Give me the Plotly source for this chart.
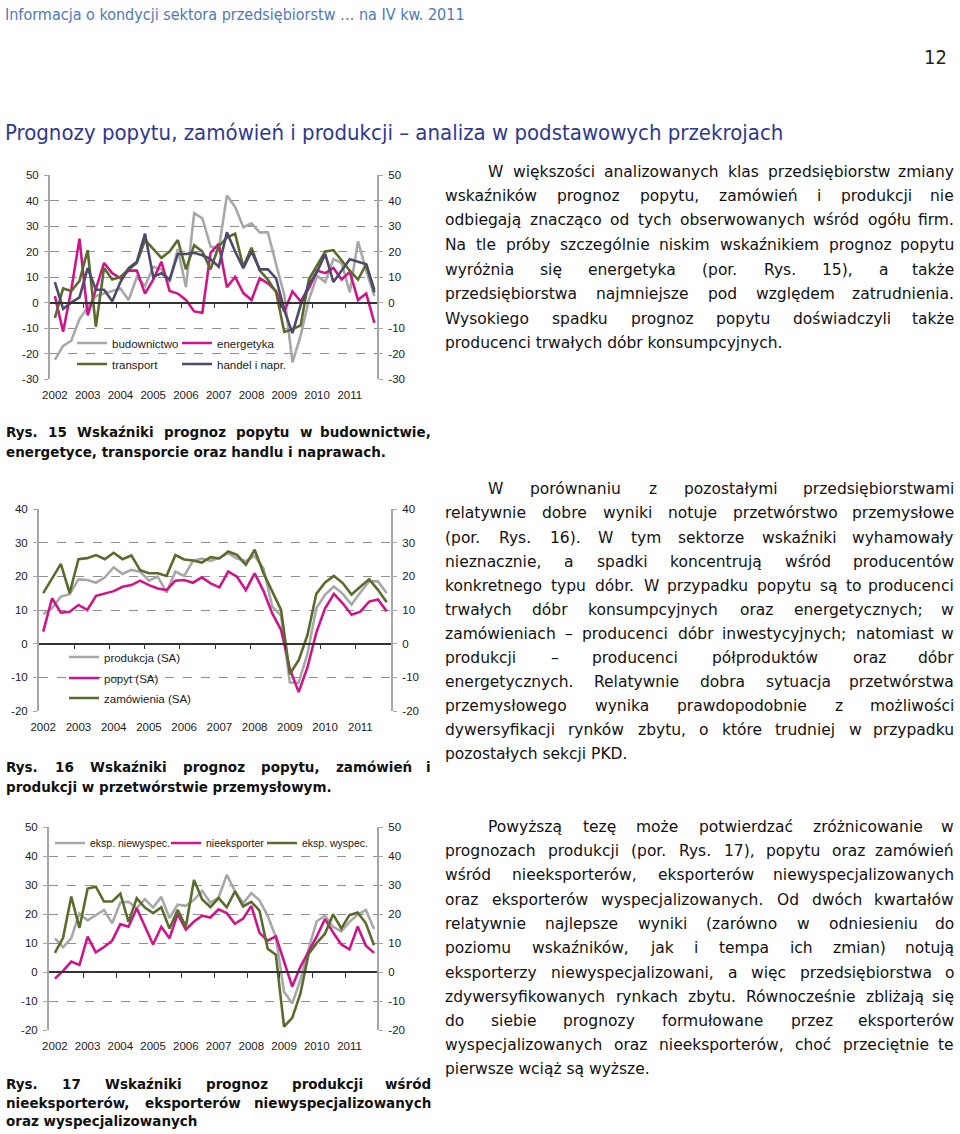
import plotly.graph_objects as go

W, H = 960, 1134

# ---------------- data ----------------
years = list(range(2002, 2012))
year_labels = [str(y) for y in years]
quarter_index = [1, 2, 3, 4]
periods = [y + (q - 1) / 4 for y in years for q in quarter_index]

# Rys. 15
budownictwo = [-22.5, -17, -15, -6.5, -2, 2.5, 3.5, 4.5, 5.5, 1, 10, 6.5, 14, 13, 8, 21, 6, 35, 33, 22,
               21, 42, 37.5, 29.5, 31, 27.5, 27.5, 15, 3, -23.5, -13, 1, 10.5, 8, 17, 15.5, 4, 24, 12.5, 2.5]
energetyka = [2.5, -11.5, 5, 25, -5, 5, 15.5, 11.5, 9.5, 12.5, 12.5, 3.5, 9, 16, 4.5, 3.5, 1, -3.5, -4, 19.5,
              23, 6, 10, 3.7, 1, 9.5, 7.5, 4.5, -3.5, 4.3, 0.5, 5.5, 12.5, 11.5, 13.5, 9, 12, 1, 3.5, -8]
transport = [-6, 5.5, 4.5, 8.5, 20.5, -9.5, 13.5, 9, 10, 13, 15.5, 24.5, 21, 17.5, 20, 24.5, 13, 22.5, 20, 13,
             22, 25.5, 27, 14, 21.5, 12.5, 9, 4, -11.5, -10.5, -9, 9, 14.5, 20, 20.5, 16.5, 12.5, 9, 15, 5]
handel = [8, -2.5, 0, 2, 13.5, 5, 5, 0.5, 8, 13.5, 16, 27, 10, 11.5, 9, 19, 19, 19.5, 18.5, 17,
          14, 27.5, 20, 13.5, 20, 13, 13, 9.5, -3, -12, -1, 7, 12, 19, 8, 12.5, 17, 16, 15, 4]
yticks15 = [-30, -20, -10, 0, 10, 20, 30, 40, 50]

# Rys. 16
produkcja = [8.8, 10.5, 14, 14.7, 19.1, 18.9, 18.1, 19.7, 22.7, 20.7, 21.9, 21.4, 18.7, 19.9, 15.2, 21.4, 20.1, 24.6, 25.3, 24.6,
             25.5, 26.8, 25.3, 24.5, 26.1, 22.4, 11, 8.3, -11.5, -11.6, -3, 10.5, 14.6, 17, 14.8, 11.6, 15.2, 18.5, 18.5, 15]
popyt = [3.6, 13.5, 9.2, 9.5, 11.5, 10, 14.2, 15, 15.6, 16.9, 17.4, 18.7, 17.4, 16.4, 15.9, 18.7, 18.9, 18.1, 19.7, 17.9,
         16.7, 21.4, 19.9, 15.9, 20.9, 15.7, 9, 4.1, -7.5, -14.4, -7, 3.3, 10.5, 14.8, 12, 8.6, 9.5, 12.5, 13.1, 9.6]
zamowienia = [15, 19.4, 23.7, 15, 25.1, 25.4, 26.3, 25.1, 27, 25.1, 26.2, 21.8, 20.9, 20.9, 20.1, 26.3, 25, 24.7, 24.1, 25.7,
              25.3, 27.4, 26.4, 23.4, 27.9, 21, 15.3, 10, -9, -4.9, 2.6, 14.8, 18.2, 20.1, 18, 14.6, 16.9, 19.1, 16, 12.3]
yticks16 = [-20, -10, 0, 10, 20, 30, 40]

# Rys. 17
eksp_niewyspec = [11.6, 8.5, 11.7, 20.2, 17.8, 19.7, 21.4, 16.8, 24, 24.2, 22, 25.1, 22.2, 25.9, 18.6, 23.2, 22.8, 24.9, 28, 23.9,
                  25.6, 33.5, 27.9, 23.7, 27.2, 24.7, 19.4, 12, -6.8, -10.9, -2.7, 7.9, 17.5, 19.4, 15.6, 14, 17.3, 19.7, 21.4, 14.8]
nieeksporter = [-2.3, 0.4, 3.6, 2.4, 12.2, 6.8, 8.6, 10.8, 16.5, 15.6, 22, 15.8, 9.5, 15.6, 11.6, 20, 14.6, 17.4, 19.4, 18.8,
                21.6, 20.3, 16.6, 18.4, 22.8, 13.5, 10.8, 12.3, 3.5, -5, 1.8, 7.1, 12.3, 18.3, 13.6, 9.5, 7.8, 15.7, 9.1, 6.6]
eksp_wyspec = [6.6, 11.8, 26, 15.2, 28.8, 29.4, 24.3, 24.3, 27, 17.3, 25.4, 22.2, 20.3, 22.3, 15, 21.4, 15.7, 31.7, 25, 22.4,
               25.5, 22.3, 27.8, 22.6, 24.2, 21.2, 8, 6, -18.8, -15.8, -7.5, 6.2, 10, 13.2, 19.9, 15, 19.6, 20.5, 16.8, 9.2]
yticks17 = [-20, -10, 0, 10, 20, 30, 40, 50]

# ---------------- styles ----------------
GRAY = "#a8a8a8"
MAGENTA = "#cc168a"
GREEN = "#5a6c2b"
PURPLE = "#4d4a6c"
AXIS_GRAY = "#a6a6a6"
AX_FAMILY = "Liberation Sans, Arial, sans-serif"
FONT_AX = dict(family=AX_FAMILY, size=11.5, color="#1a1a1a")
BODY_FONT = "DejaVu Sans, Verdana, sans-serif"
COND_FONT = "DejaVu Sans Condensed, Liberation Sans Narrow, DejaVu Sans, sans-serif"


def fx(px):
    return px / W


def fy(py):
    return 1 - py / H


charts = [
    dict(xdom=(50, 377), ydom=(175, 379), yr=(-30, 50), xr=(2001.85, 2011.83), yticks=yticks15, lsize=11.5,
         series=[("budownictwo", budownictwo, GRAY, (112, 343)),
                 ("energetyka", energetyka, MAGENTA, (217, 343)),
                 ("transport", transport, GREEN, (112, 364)),
                 ("handel i napr.", handel, PURPLE, (217, 364))]),
    dict(xdom=(39, 391), ydom=(509, 711), yr=(-20, 40), xr=(2001.88, 2011.87), yticks=yticks16, lsize=11.5,
         series=[("produkcja (SA)", produkcja, GRAY, (104, 657)),
                 ("popyt (SA)", popyt, MAGENTA, (104, 678)),
                 ("zamówienia (SA)", zamowienia, GREEN, (104, 698))]),
    dict(xdom=(49, 377), ydom=(827, 1030), yr=(-20, 50), xr=(2001.82, 2011.84), yticks=yticks17, lsize=10.5,
         series=[("eksp. niewyspec.", eksp_niewyspec, GRAY, (90, 843)),
                 ("nieeksporter", nieeksporter, MAGENTA, (206, 843)),
                 ("eksp. wyspec.", eksp_wyspec, GREEN, (302, 843))]),
]

fig = go.Figure()
layout = {}
legend_count = 0

for c, ch in enumerate(charts, start=1):
    xn = "x" if c == 1 else f"x{c}"
    yn = "y" if c == 1 else f"y{c}"
    xk = "xaxis" if c == 1 else f"xaxis{c}"
    yk = "yaxis" if c == 1 else f"yaxis{c}"
    xdom = [fx(ch["xdom"][0]), fx(ch["xdom"][1])]
    ydom = [fy(ch["ydom"][1]), fy(ch["ydom"][0])]
    yr = ch["yr"]
    ytext = [str(v) for v in ch["yticks"]]
    layout[xk] = dict(domain=xdom, range=list(ch["xr"]), anchor=yn, tickmode="array",
                      tickvals=years, ticktext=year_labels, ticks="", showline=False,
                      showgrid=False, zeroline=False, tickfont=FONT_AX, ticklabelstandoff=7)
    layout[yk] = dict(domain=ydom, range=list(yr), anchor=xn, tickmode="array",
                      tickvals=ch["yticks"], ticktext=ytext,
                      showgrid=True, gridcolor="#8f8f8f", griddash="dash", gridwidth=1,
                      zeroline=False, showline=True, linecolor=AXIS_GRAY, linewidth=2,
                      ticks="outside", ticklen=4, tickcolor=AXIS_GRAY, tickfont=FONT_AX,
                      ticklabelstandoff=3)
    # right-hand duplicate axis
    yr_name = f"y{c + 3}"
    layout[f"yaxis{c + 3}"] = dict(overlaying=yn, side="right", anchor=xn, range=list(yr),
                                   tickmode="array", tickvals=ch["yticks"], ticktext=ytext,
                                   showgrid=False, zeroline=False,
                                   showline=True, linecolor=AXIS_GRAY, linewidth=2,
                                   ticks="outside", ticklen=4, tickcolor=AXIS_GRAY,
                                   tickfont=FONT_AX, ticklabelstandoff=3)
    # horizontal axis crossing at zero with tick marks between years
    xz_name = f"x{c + 3}"
    zero_pos = ydom[0] + (0 - yr[0]) / (yr[1] - yr[0]) * (ydom[1] - ydom[0])
    layout[f"xaxis{c + 3}"] = dict(overlaying=xn, anchor="free", position=zero_pos,
                                   range=list(ch["xr"]), tickmode="array",
                                   tickvals=[y + 0.875 for y in years[:-1]],
                                   ticks="outside", ticklen=5, tickcolor="#333333",
                                   showticklabels=False, showline=True, linecolor="#333333",
                                   linewidth=1.5, showgrid=False, zeroline=False, side="bottom")
    first_vals = ch["series"][0][1]
    # invisible helper traces so the secondary axes are drawn
    fig.add_trace(go.Scatter(x=periods, y=first_vals, mode="lines", line=dict(width=0),
                             opacity=0, showlegend=False, hoverinfo="skip",
                             xaxis=xn, yaxis=yr_name))
    fig.add_trace(go.Scatter(x=periods, y=first_vals, mode="lines", line=dict(width=0),
                             opacity=0, showlegend=False, hoverinfo="skip",
                             xaxis=xz_name, yaxis=yn))
    for name, vals, color, (lx, ly) in ch["series"]:
        legend_count += 1
        lid = "legend" if legend_count == 1 else f"legend{legend_count}"
        fig.add_trace(go.Scatter(x=periods, y=vals, mode="lines", name=name,
                                 line=dict(color=color, width=2.6),
                                 xaxis=xn, yaxis=yn, legend=lid))
        layout[lid] = dict(x=fx(lx - 40), y=fy(ly), xanchor="left", yanchor="middle",
                           bgcolor="rgba(0,0,0,0)", borderwidth=0, itemwidth=30,
                           font=dict(family=AX_FAMILY, size=ch["lsize"], color="#1a1a1a"))

fig.update_layout(**layout)

# ---------------- text ----------------
EM = {' ': .318, 'a': .613, 'b': .635, 'c': .550, 'd': .635, 'e': .615, 'f': .352, 'g': .635,
      'h': .634, 'i': .278, 'j': .278, 'k': .579, 'l': .278, 'm': .974, 'n': .634, 'o': .612,
      'p': .635, 'q': .635, 'r': .411, 's': .521, 't': .392, 'u': .634, 'v': .592, 'w': .818,
      'x': .592, 'y': .592, 'z': .525, 'A': .684, 'B': .686, 'C': .698, 'D': .770, 'E': .632,
      'F': .575, 'G': .775, 'H': .752, 'I': .295, 'J': .295, 'K': .656, 'L': .557, 'M': .863,
      'N': .748, 'O': .787, 'P': .603, 'Q': .787, 'R': .695, 'S': .635, 'T': .611, 'U': .732,
      'V': .684, 'W': .989, 'X': .685, 'Y': .611, 'Z': .685, '.': .318, ',': .318, '(': .390,
      ')': .390, ';': .337, ':': .337, '–': .500, '-': .361, 'ł': .30}
for d in '0123456789':
    EM[d] = .636
EM_B = {' ': .348, 'a': .675, 'b': .716, 'c': .593, 'd': .716, 'e': .678, 'f': .435, 'g': .716,
        'h': .712, 'i': .343, 'j': .343, 'k': .665, 'l': .343, 'm': 1.042, 'n': .712, 'o': .687,
        'p': .716, 'r': .493, 's': .595, 't': .478, 'u': .712, 'w': .924, 'y': .652, 'z': .582,
        'R': .770, 'W': 1.103, '.': .380, ',': .380, 'ł': .36}
for d in '0123456789':
    EM_B[d] = .696
ACCENT = {'ą': 'a', 'ć': 'c', 'ę': 'e', 'ń': 'n', 'ó': 'o', 'ś': 's', 'ź': 'z', 'ż': 'z',
          'Ś': 'S', 'Ż': 'Z', 'Ł': 'L'}


def text_w(s, size, bold=False):
    table = EM_B if bold else EM
    tot = 0
    for ch in s:
        ch = ACCENT.get(ch, ch)
        tot += table.get(ch, EM.get(ch, .6) * 1.12)
    return tot * size


def add_text(txt, x, y, size, font, color="#111111", anchor="left", bold=False):
    fig.add_annotation(text=f"<b>{txt}</b>" if bold else txt, x=fx(x), y=fy(y),
                       xref="paper", yref="paper", xanchor=anchor, yanchor="middle",
                       showarrow=False, borderpad=0,
                       font=dict(family=font, size=size, color=color))


def add_line(line, x0, x1, y, size, justify=True, bold=False):
    words = line.split(" ")
    if not justify or len(words) == 1:
        add_text(line, x0, y, size, BODY_FONT, bold=bold)
        return
    widths = [text_w(w, size, bold) for w in words]
    gap = (x1 - x0 - sum(widths)) / (len(words) - 1)
    x = x0
    for k, (w, ww) in enumerate(zip(words, widths)):
        if k == len(words) - 1:
            add_text(w, x1, y, size, BODY_FONT, anchor="right", bold=bold)
        else:
            add_text(w, x, y, size, BODY_FONT, bold=bold)
        x += ww + gap


def add_paragraph(lines, ys, x0, x1, indent_x, size=15.5, bold=False):
    for k, (ln, y) in enumerate(zip(lines, ys)):
        start = indent_x if k == 0 else x0
        just = k < len(lines) - 1
        add_line(ln, start, x1, y, size, justify=just, bold=bold)


# header
add_text("Informacja o kondycji sektora przedsiębiorstw … na IV kw. 2011", 4, 14, 16,
         COND_FONT, color="#4f79b5")
add_text("12", 935, 57, 20, COND_FONT, color="#222222", anchor="center")
add_text("Prognozy popytu, zamówień i produkcji – analiza w podstawowych przekrojach", 4, 133, 22,
         COND_FONT, color="#2f3a8c")

block1 = [
    "W większości analizowanych klas przedsiębiorstw zmiany",
    "wskaźników prognoz popytu, zamówień i produkcji nie",
    "odbiegają znacząco od tych obserwowanych wśród ogółu firm.",
    "Na tle próby szczególnie niskim wskaźnikiem prognoz popytu",
    "wyróżnia się energetyka (por. Rys. 15), a także",
    "przedsiębiorstwa najmniejsze pod względem zatrudnienia.",
    "Wysokiego spadku prognoz popytu doświadczyli także",
    "producenci trwałych dóbr konsumpcyjnych.",
]
block1_y = [172, 196, 220, 245, 270, 294, 319, 343]

block2 = [
    "W porównaniu z pozostałymi przedsiębiorstwami",
    "relatywnie dobre wyniki notuje przetwórstwo przemysłowe",
    "(por. Rys. 16). W tym sektorze wskaźniki wyhamowały",
    "nieznacznie, a spadki koncentrują wśród producentów",
    "konkretnego typu dóbr. W przypadku popytu są to producenci",
    "trwałych dóbr konsumpcyjnych oraz energetycznych; w",
    "zamówieniach – producenci dóbr inwestycyjnych; natomiast w",
    "produkcji – producenci półproduktów oraz dóbr",
    "energetycznych. Relatywnie dobra sytuacja przetwórstwa",
    "przemysłowego wynika prawdopodobnie z możliwości",
    "dywersyfikacji rynków zbytu, o które trudniej w przypadku",
    "pozostałych sekcji PKD.",
]
block2_y = [489, 513, 538, 562, 586, 610, 634, 658, 682, 706, 730, 754]

block3 = [
    "Powyższą tezę może potwierdzać zróżnicowanie w",
    "prognozach produkcji (por. Rys. 17), popytu oraz zamówień",
    "wśród nieeksporterów, eksporterów niewyspecjalizowanych",
    "oraz eksporterów wyspecjalizowanych. Od dwóch kwartałów",
    "relatywnie najlepsze wyniki (zarówno w odniesieniu do",
    "poziomu wskaźników, jak i tempa ich zmian) notują",
    "eksporterzy niewyspecjalizowani, a więc przedsiębiorstwa o",
    "zdywersyfikowanych rynkach zbytu. Równocześnie zbliżają się",
    "do siebie prognozy formułowane przez eksporterów",
    "wyspecjalizowanych oraz nieeksporterów, choć przeciętnie te",
    "pierwsze wciąż są wyższe.",
]
block3_y = [827, 851, 875, 900, 924, 948, 973, 997, 1021, 1045, 1069]

add_paragraph(block1, block1_y, 444, 955, 487)
add_paragraph(block2, block2_y, 444, 955, 487)
add_paragraph(block3, block3_y, 444, 955, 487)

cap15 = ["Rys. 15 Wskaźniki prognoz popytu w budownictwie,",
         "energetyce, transporcie oraz handlu i naprawach."]
cap16 = ["Rys. 16 Wskaźniki prognoz popytu, zamówień i",
         "produkcji w przetwórstwie przemysłowym."]
cap17 = ["Rys. 17 Wskaźniki prognoz produkcji wśród",
         "nieeksporterów, eksporterów niewyspecjalizowanych",
         "oraz wyspecjalizowanych"]
add_paragraph(cap15, [432, 452], 5, 432, 5, size=13.5, bold=True)
add_paragraph(cap16, [767, 787], 5, 432, 5, size=13.5, bold=True)
add_paragraph(cap17, [1084, 1103, 1121], 5, 432, 5, size=13.5, bold=True)

fig.update_layout(width=W, height=H,
                  margin=dict(l=0, r=0, t=0, b=0, pad=0, autoexpand=False),
                  paper_bgcolor="white", plot_bgcolor="white", showlegend=True)

fig.write_html("out.html", config={"displayModeBar": False},
               post_script="document.body.style.margin='0';document.body.style.padding='0';"
                           "document.documentElement.style.overflow='hidden';"
                           "document.body.style.overflow='hidden';")
